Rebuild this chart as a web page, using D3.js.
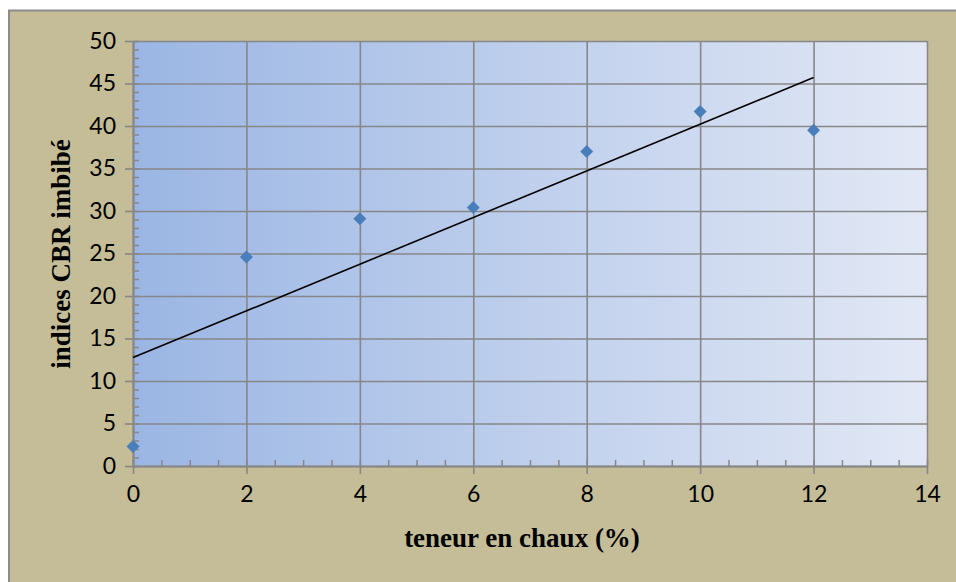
<!DOCTYPE html>
<html>
<head>
<meta charset="utf-8">
<script src="https://cdnjs.cloudflare.com/ajax/libs/d3/7.8.5/d3.min.js"></script>
<style>
body { margin: 0; background: #fff; }
.tick text { font-family: Lato, "Open Sans", sans-serif; font-size: 23px; fill: #000; }
.title { font-family: "Liberation Serif", "Times New Roman", serif; font-weight: bold; font-size: 27px; fill: #000; }
</style>
</head>
<body>
<script>

// data
var chaux = [0, 2, 4, 6, 8, 10, 12];
var cbr = [2.3, 24.6, 29.1, 30.4, 37.0, 41.7, 39.5];
var xTicks = [0, 2, 4, 6, 8, 10, 12, 14];
var yTicks = [0, 5, 10, 15, 20, 25, 30, 35, 40, 45, 50];

var width = 956,
	height = 582;

var margin = {left: 133, top: 41, right: 29, bottom: 116};
var w = width - margin.left - margin.right,
	h = height - margin.top - margin.bottom;

var svg = d3.select("body").append("svg")
	.attr("width", width)
	.attr("height", height)
	.style("display", "block");

// chart area
svg.append("rect")
	.attr("x", 9)
	.attr("y", 10.5)
	.attr("width", 960)
	.attr("height", 590)
	.attr("fill", "#c4bd97")
	.attr("stroke", "#8c8c8c")
	.attr("stroke-width", 2);

var defs = svg.append("defs");
var grad = defs.append("linearGradient")
	.attr("id", "plotfill")
	.attr("x1", "0%").attr("x2", "100%")
	.attr("y1", "0%").attr("y2", "0%");
grad.append("stop").attr("offset", "0%").attr("stop-color", "#9bb6e4");
grad.append("stop").attr("offset", "100%").attr("stop-color", "#e2e8f5");

var g = svg.append("g")
	.attr("transform", "translate(" + margin.left + "," + margin.top + ")");

var x = d3.scaleLinear().domain([0, 14]).range([0, w]);
var y = d3.scaleLinear().domain([0, 50]).range([h, 0]);

g.append("rect")
	.attr("width", w)
	.attr("height", h)
	.attr("fill", "url(#plotfill)");

var gridColor = "#878787";

// grid lines
g.append("g")
	.call(d3.axisLeft(y).tickValues(yTicks).tickSize(-w).tickFormat(""))
	.call(function(s) {
		s.select(".domain").remove();
		s.selectAll("line").attr("stroke", gridColor).attr("stroke-width", 1.6);
	});
g.append("g")
	.attr("transform", "translate(0," + h + ")")
	.call(d3.axisBottom(x).tickValues(xTicks).tickSize(-h).tickFormat(""))
	.call(function(s) {
		s.select(".domain").remove();
		s.selectAll("line").attr("stroke", gridColor).attr("stroke-width", 1.6);
	});

// minor ticks inside the plot
g.append("g")
	.call(d3.axisRight(y).ticks(50).tickSize(6).tickFormat(""))
	.call(function(s) {
		s.select(".domain").remove();
		s.selectAll("line").attr("stroke", gridColor).attr("stroke-width", 1.5);
	});
g.append("g")
	.attr("transform", "translate(0," + h + ")")
	.call(d3.axisTop(x).ticks(28).tickSize(6).tickFormat(""))
	.call(function(s) {
		s.select(".domain").remove();
		s.selectAll("line").attr("stroke", gridColor).attr("stroke-width", 1.5);
	});

// main axes
var yAxis = g.append("g")
	.call(d3.axisLeft(y).tickValues(yTicks).tickSize(8).tickSizeOuter(0).tickPadding(9));
var xAxis = g.append("g")
	.attr("transform", "translate(0," + h + ")")
	.call(d3.axisBottom(x).tickValues(xTicks).tickSize(8).tickSizeOuter(0).tickPadding(12));
[yAxis, xAxis].forEach(function(a) {
	a.select(".domain").attr("stroke", gridColor).attr("stroke-width", 2);
	a.selectAll(".tick line").attr("stroke", gridColor).attr("stroke-width", 1.6);
});

// linear trendline (least squares, like Excel)
var mx = d3.mean(chaux), my = d3.mean(cbr);
var slope = d3.sum(chaux, function(d, i) { return (d - mx) * (cbr[i] - my); }) /
	d3.sum(chaux, function(d) { return (d - mx) * (d - mx); });
var inter = my - slope * mx;
var xEnds = d3.extent(chaux);
g.append("line")
	.attr("x1", x(xEnds[0])).attr("y1", y(inter + slope * xEnds[0]))
	.attr("x2", x(xEnds[1])).attr("y2", y(inter + slope * xEnds[1]))
	.attr("stroke", "#000")
	.attr("stroke-width", 1.6);

// markers
g.selectAll(".pt")
	.data(chaux)
	.enter().append("path")
	.attr("class", "pt")
	.attr("d", d3.symbol(d3.symbolSquare, 84))
	.attr("transform", function(d, i) { return "translate(" + x(d) + "," + y(cbr[i]) + ") rotate(45)"; })
	.attr("fill", "#4a7ebb");

// axis titles
svg.append("text")
	.attr("class", "title")
	.attr("x", 522)
	.attr("y", 547)
	.attr("text-anchor", "middle")
	.text("teneur en chaux (%)");

svg.append("text")
	.attr("class", "title")
	.attr("transform", "translate(70," + 254 + ") rotate(-90)")
	.attr("text-anchor", "middle")
	.text("indices CBR imbibé");

</script>
</body>
</html>
